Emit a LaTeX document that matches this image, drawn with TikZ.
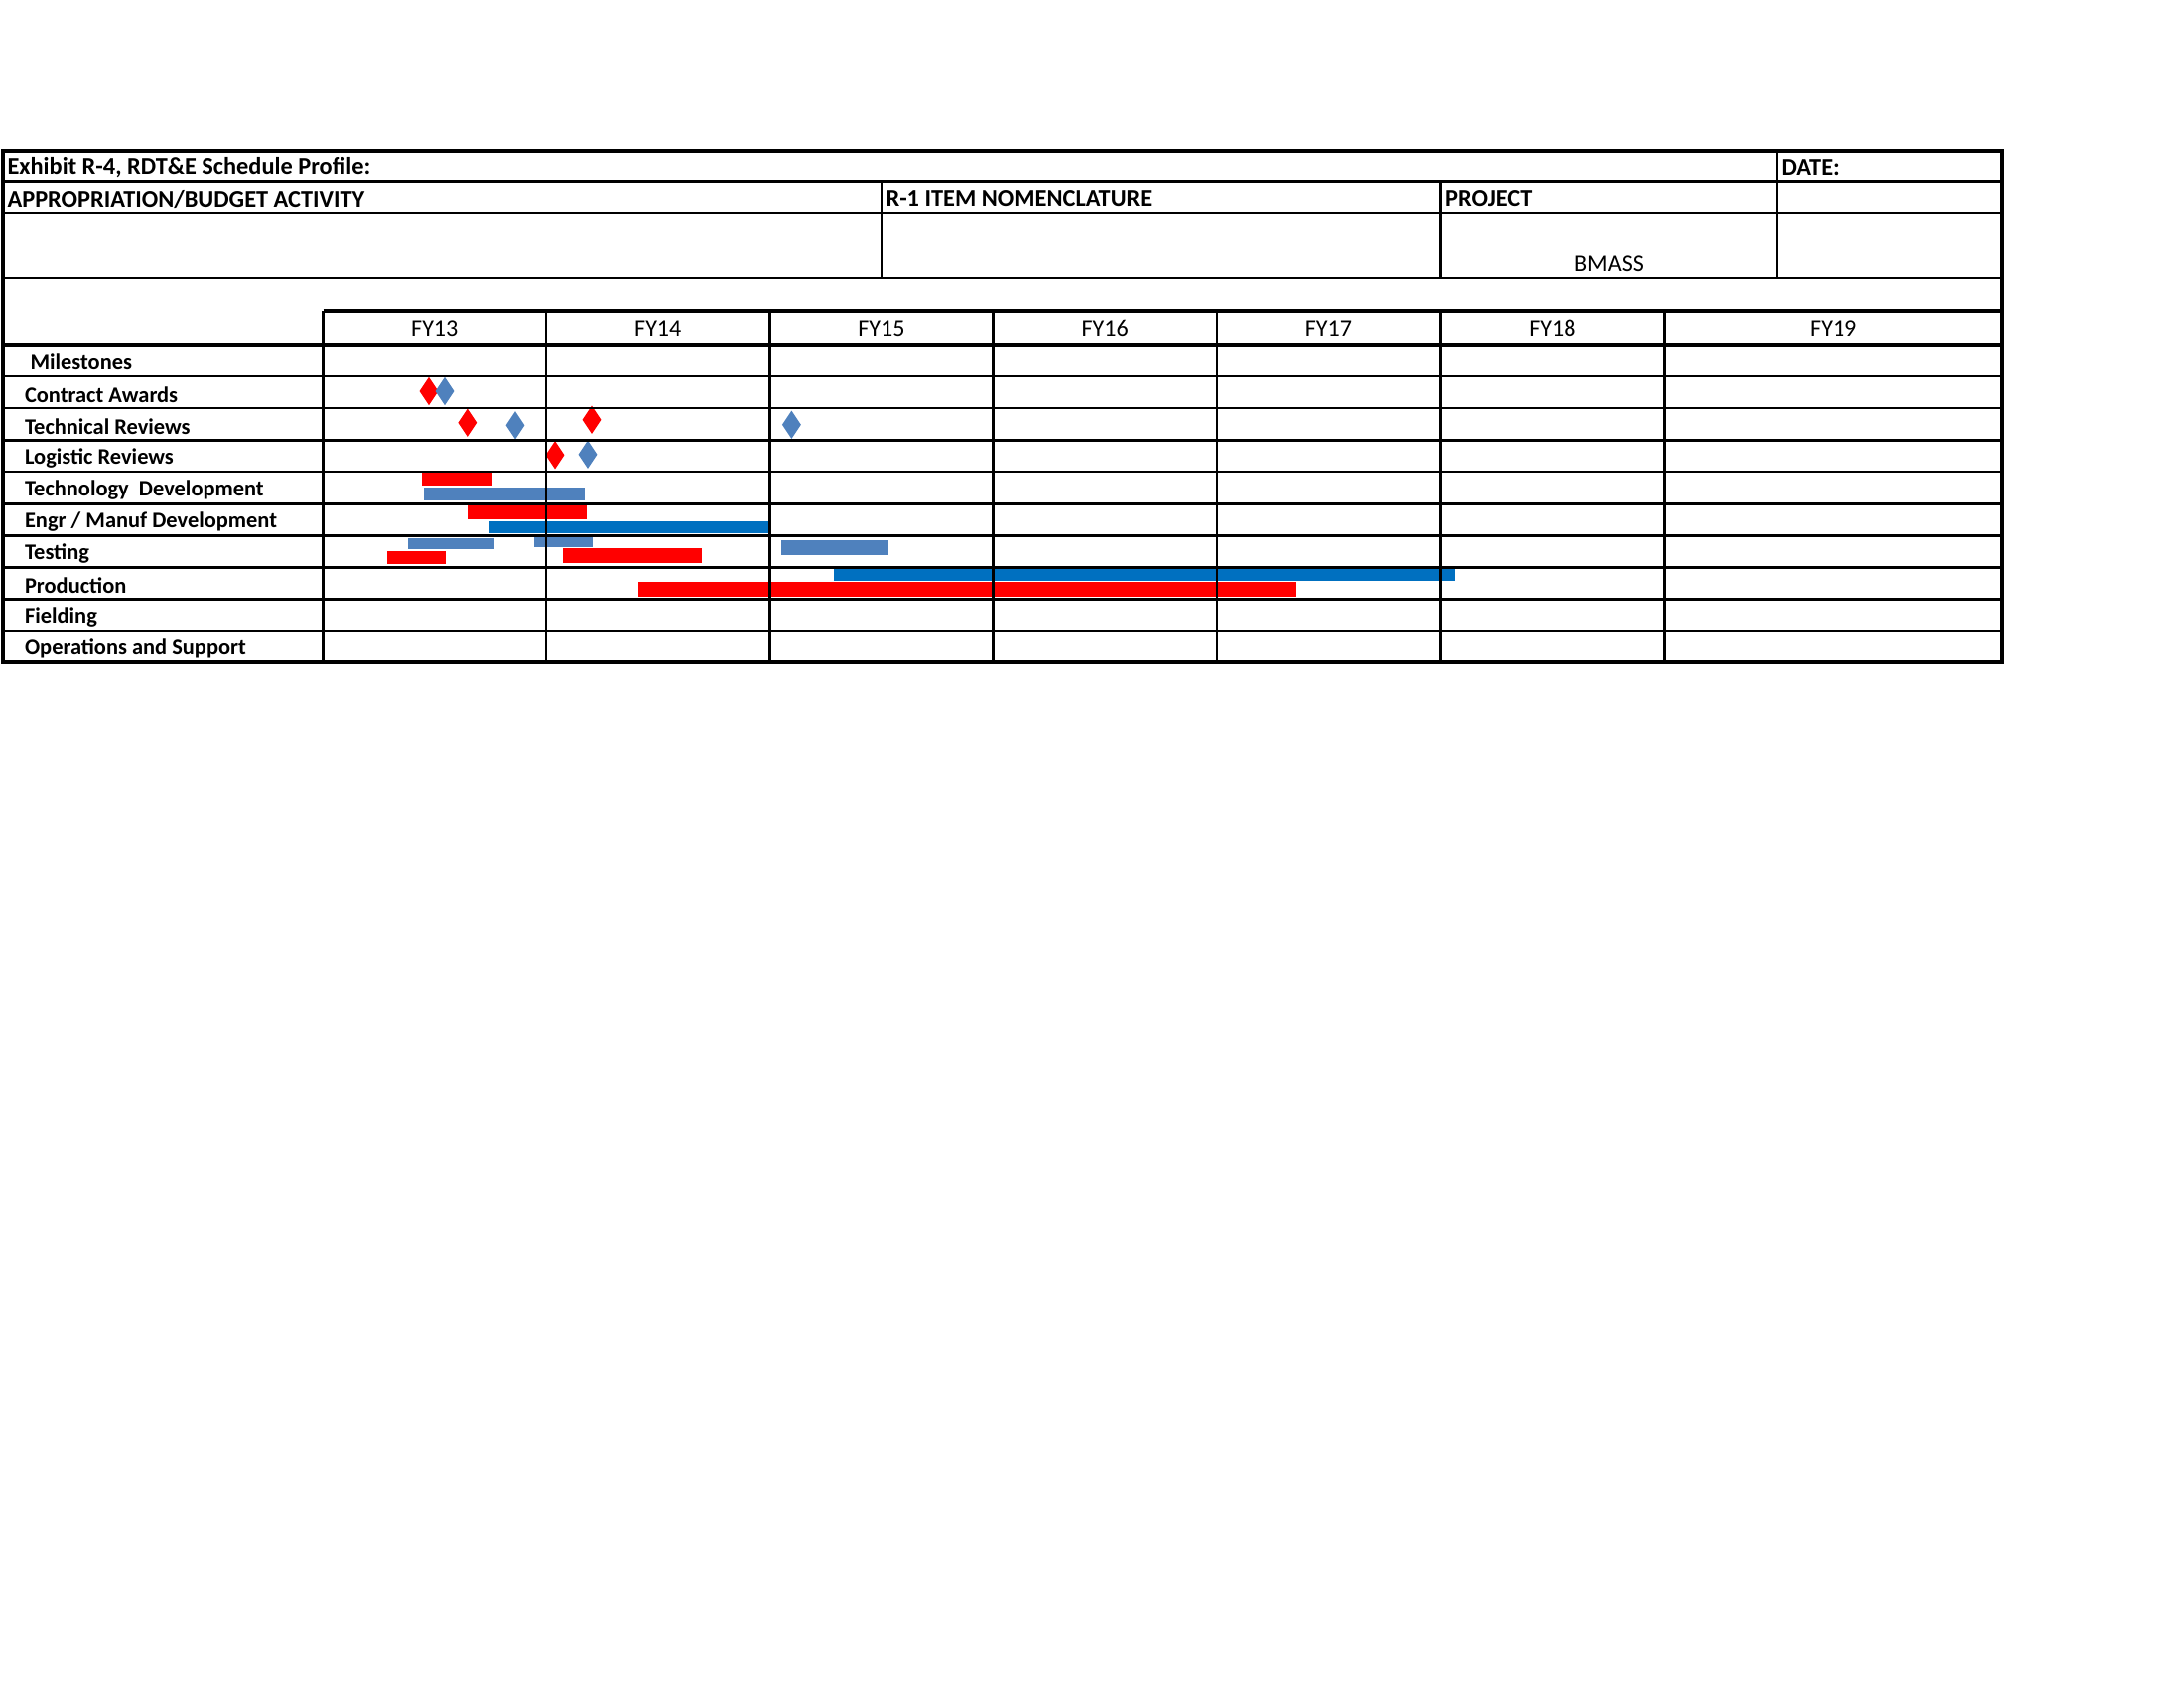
\documentclass[tikz,border=0pt]{standalone}
\usepackage{fontspec}
\setmainfont{Carlito}
\usetikzlibrary{shapes.geometric}
\definecolor{msred}{HTML}{FF0000}
\definecolor{mslblue}{HTML}{4F81BD}
\definecolor{msdblue}{HTML}{0070C0}
\begin{document}
\begin{tikzpicture}[x=0.0127cm,y=-0.0127cm,
  gridline/.style={line width=0.9pt},
  heavyline/.style={line width=1.4pt},
  hdr/.style={font=\bfseries\fontsize{8.8}{10}\selectfont, anchor=west, inner sep=0},
  rowlbl/.style={font=\bfseries\fontsize{8.1}{10}\selectfont, anchor=west, inner sep=0},
  fylbl/.style={font=\fontsize{8.7}{10}\selectfont, inner sep=0},
  msd/.style={diamond, inner sep=0, outer sep=0, minimum width=0.24cm, minimum height=0.36cm},
  rbar/.style={fill=msred},
  lbar/.style={fill=mslblue},
  dbar/.style={fill=msdblue}]
\useasboundingbox (0,0) rectangle (2200,1700);

% ---------- bars (under grid) ----------
% Technology Development
\fill[rbar] (425.4,475.5) rectangle (495.8,489);
\fill[lbar] (426.7,491) rectangle (589.3,504.3);
% Engr / Manuf Development
\fill[rbar] (470.8,508.3) rectangle (590.6,522.7);
\fill[dbar] (493,525) rectangle (776.5,536.7);
% Testing
\fill[lbar] (411,541.7) rectangle (497.5,553.3);
\fill[rbar] (390.2,555) rectangle (449,568.3);
\fill[lbar] (537.6,540.5) rectangle (597.3,550.7);
\fill[rbar] (566.6,551.7) rectangle (706.6,566.7);
\fill[lbar] (787.2,544) rectangle (894.9,558.7);
% Production
\fill[dbar] (839.8,572.3) rectangle (1466.3,585);
\fill[rbar] (642.8,586) rectangle (1304.6,600.7);

% ---------- milestone diamonds ----------
\node[msd, fill=msred]   (ca1) at (432,394) {};
\node[msd, fill=mslblue] (ca2) at (448,394) {};
\node[msd, fill=msred]   (tr1) at (470.8,425.7) {};
\node[msd, fill=mslblue] (tr2) at (519,428.3) {};
\node[msd, fill=msred]   (tr3) at (596,422.7) {};
\node[msd, fill=mslblue] (tr4) at (797.4,427.7) {};
\node[msd, fill=msred]   (lr1) at (559,458.3) {};
\node[msd, fill=mslblue] (lr2) at (592,457.7) {};

% ---------- grid ----------
\draw[gridline] (3,182.3) -- (2017,182.3);
\draw[gridline] (3,215) -- (2017,215);
\draw[gridline] (3,280) -- (2017,280);
\draw[gridline] (1790,151.7) -- (1790,280);
\draw[gridline] (888,182.3) -- (888,280);
\draw[gridline] (1451.3,182.3) -- (1451.3,280);
\foreach \yy in {379,411,443.3,475,507.3,539.3,571.7,603.3,635}
  \draw[gridline] (3,\yy) -- (2017,\yy);
\foreach \xx in {550.2,775.4,1000.6,1225.8,1451.3,1676.5}
  \draw[gridline] (\xx,313.3) -- (\xx,666.7);
\draw[gridline] (325.5,313.3) -- (325.5,666.7);
\draw[heavyline] (325.5,313.3) -- (2017,313.3);
\draw[heavyline] (3,346.7) -- (2017,346.7);
\draw[heavyline] (3,151.7) rectangle (2017,666.7);

% ---------- header texts ----------
\node[hdr] (exh) at (7,168.5) {Exhibit R-4, RDT\&E Schedule Profile:};
\node[hdr] (date) at (1794,168.5) {DATE:};
\node[hdr] (approp) at (7,200) {APPROPRIATION/BUDGET ACTIVITY};
\node[hdr] (nomen) at (892,200) {R-1 ITEM NOMENCLATURE};
\node[hdr] (proj) at (1455.5,200) {PROJECT};
\node[fylbl] (bmass) at (1621,265.5) {BMASS};

% ---------- fiscal years ----------
\node[fylbl] (fy13) at (437.8,330.5) {FY13};
\node[fylbl] (fy14) at (662.8,330.5) {FY14};
\node[fylbl] (fy15) at (888,330.5) {FY15};
\node[fylbl] (fy16) at (1113.2,330.5) {FY16};
\node[fylbl] (fy17) at (1338.5,330.5) {FY17};
\node[fylbl] (fy18) at (1563.9,330.5) {FY18};
\node[fylbl] (fy19) at (1846.8,330.5) {FY19};

% ---------- row labels ----------
\node[rowlbl] (r1) at (30,365) {Milestones};
\node[rowlbl] (r2) at (24.5,397.2) {Contract Awards};
\node[rowlbl] (r3) at (24.5,429.3) {Technical Reviews};
\node[rowlbl] (r4) at (24.5,461.3) {Logistic Reviews};
\node[rowlbl] (r5) at (24.5,493.3) {Technology\ \ Development};
\node[rowlbl] (r6) at (24.5,525.5) {Engr / Manuf Development};
\node[rowlbl] (r7) at (24.5,557.7) {Testing};
\node[rowlbl] (r8) at (24.5,589.7) {Production};
\node[rowlbl] (r9) at (24.5,621.3) {Fielding};
\node[rowlbl] (r10) at (24.5,653.3) {Operations and Support};
\end{tikzpicture}
\end{document}
